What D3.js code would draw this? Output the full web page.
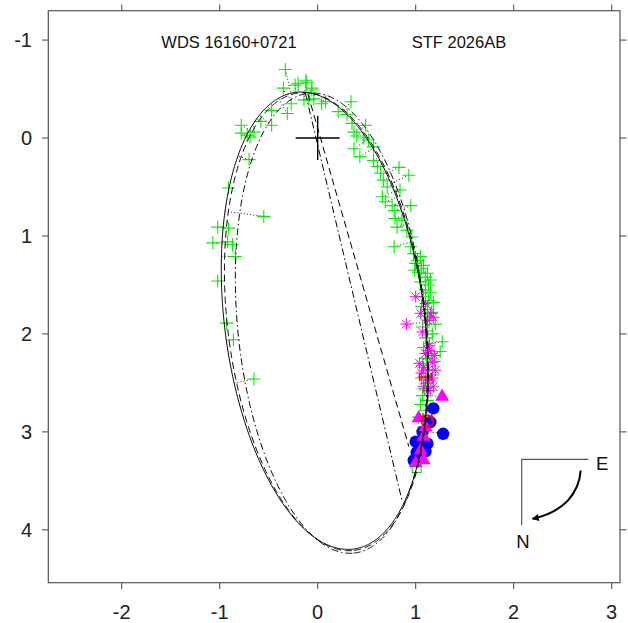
<!DOCTYPE html>
<html><head><meta charset="utf-8">
<script src="https://cdn.jsdelivr.net/npm/d3@7"></script>
<style>body{margin:0;background:#fff}</style>
</head><body>
<svg id="c" width="628" height="623"></svg>
<script>
// ---------- data ----------
const xTicks = [-2, -1, 0, 1, 2, 3];
const yTicks = [-1, 0, 1, 2, 3, 4];
const titleLeft = "WDS 16160+0721";
const titleRight = "STF 2026AB";

// apparent orbits (centre, semi-axes, tilt of major axis in degrees)
const orbitStyle = ["solid", "dashed", "dashdot"];
const orbitCx = [0.07, 0.09, 0.14];
const orbitCy = [1.865, 1.875, 1.89];
const orbitA = [2.35, 2.352, 2.359];
const orbitB = [1.02, 1.01, 0.958];
const orbitTilt = [7.2, 6.9, 5.54];

// lines through the primary
const chordStyle = ["dashed", "dashdot"];
const chordFrom = [[-0.10, -0.45], [-0.125, -0.456]];
const chordTo = [[0.93, 3.15], [0.86, 3.70]];

// observations
const greenPlus = [
  [-0.33,-0.70],[-0.35,-0.51],[-0.23,-0.54],[-0.12,-0.59],[-0.06,-0.49],[-0.04,-0.40],[-0.14,-0.39],
  [-0.27,-0.35],[-0.31,-0.25],[-0.47,-0.28],[-0.47,-0.13],[-0.58,-0.17],[-0.65,-0.06],[-0.72,-0.03],
  [-0.78,-0.13],[-0.78,-0.05],[-0.69,-0.01],[-0.70,0.22],[-0.91,0.51],[-0.55,0.80],[-1.02,0.91],[-0.91,0.92],
  [-1.07,1.07],[-0.92,1.06],[-0.87,1.09],[-0.84,1.21],[-1.02,1.46],[-0.93,1.89],[-0.86,2.06],[-0.65,2.46],
  [-0.20,-0.56],[-0.11,-0.57],[-0.06,-0.51],[-0.09,-0.39],[0.04,-0.35],[0.08,-0.37],[0.34,-0.37],[0.21,-0.27],
  [0.30,-0.24],[0.35,-0.15],[0.37,-0.06],[0.40,-0.02],[0.49,-0.13],[0.47,0.00],[0.52,0.02],
  [0.37,0.11],[0.43,0.19],[0.57,0.09],[0.57,0.23],[0.61,0.29],[0.64,0.36],[0.83,0.30],[0.93,0.38],
  [0.67,0.43],[0.71,0.50],[0.66,0.60],[0.69,0.65],[0.76,0.69],[0.84,0.53],[0.78,0.74],[0.95,0.69],
  [0.79,0.82],[0.86,0.84],[0.81,0.91],[0.91,0.94],[0.96,1.01],[0.78,1.11],[0.95,1.11],[0.98,1.18],
  [1.05,1.21],[1.00,1.28],[1.08,1.30],[1.03,1.37],[1.12,1.38],[1.05,1.47],[1.13,1.50],
  [1.02,1.25],[1.06,1.33],[1.10,1.42],[0.99,1.35],[1.15,1.45],
  [1.10,1.55],[1.15,1.58],[1.08,1.62],[1.13,1.66],[1.18,1.68],[1.06,1.72],[1.12,1.75],[1.16,1.78],
  [1.09,1.82],[1.14,1.86],[1.20,1.90],[1.07,1.93],[1.12,1.97],[1.17,2.00],[1.10,2.04],[1.27,2.08],
  [1.14,2.10],[1.25,2.18],[1.08,2.14],[1.16,2.20],[1.11,2.25],[1.19,2.28],[1.07,2.32],[1.13,2.36],
  [1.17,2.42],[1.06,2.45],[1.12,2.50],[1.09,2.56],[1.15,2.58],[1.07,2.63],[1.12,2.68],[1.05,2.72],
  [1.10,2.78],[1.03,2.85],[1.08,2.95],[1.04,3.05]
];
const magentaStar = [
  [1.00,1.62],[1.10,1.69],[1.15,1.79],[0.905,1.90],[1.05,1.79],[1.12,1.86],[1.18,1.83],[1.07,1.98],
  [1.13,2.17],[1.10,2.20],[1.17,2.29],[1.08,2.34],[1.12,2.37],[1.20,2.37],[1.10,2.47],[1.13,2.47],
  [1.18,2.54],[1.08,2.54],[1.17,2.45],[1.14,2.12],[1.06,2.40],[1.19,2.22],[1.13,2.58],[1.04,2.30]
];
const magentaTri = [[1.27,2.64],[1.03,2.86],[1.05,3.19],[1.00,3.32],[1.08,3.29],[1.08,3.05],[1.10,2.95]];
const blueDot = [[1.18,2.76],[1.15,2.90],[1.28,3.02],[1.00,3.10],[1.07,3.00],[1.12,3.12],[1.01,3.21],[0.98,3.29],[1.10,3.20]];
const redBar = [[1.10,2.44,0.06],[1.12,2.85,0.045]];
const redRing = [[1.12,2.89]];
const greenSquare = [[1.01,3.37]];

// ---------- drawing ----------
const svg = d3.select("#c");
const x = d3.scaleLinear().domain([-2.749, 3.085]).range([48.3, 620]);
const y = d3.scaleLinear().domain([-1.30, 4.54]).range([10.7, 582.7]);
const font = "'Liberation Sans', Arial, Helvetica, sans-serif";
const dashOf = {solid: null, dashed: "7,4", dashdot: "7,3,1.5,3"};

function ellipsePts(i, n) {
  const phi = orbitTilt[i] * Math.PI / 180, pts = [];
  for (let k = 0; k <= n; k++) {
    const t = 2 * Math.PI * k / n;
    pts.push([
      orbitCx[i] + orbitA[i] * Math.cos(t) * Math.sin(phi) + orbitB[i] * Math.sin(t) * Math.cos(phi),
      orbitCy[i] + orbitA[i] * Math.cos(t) * Math.cos(phi) - orbitB[i] * Math.sin(t) * Math.sin(phi)
    ]);
  }
  return pts;
}
const solidPts = ellipsePts(0, 1440);
function nearest(p) {
  let best = null, bd = Infinity;
  for (const q of solidPts) {
    const d = (q[0]-p[0])**2 + (q[1]-p[1])**2;
    if (d < bd) { bd = d; best = q; }
  }
  return best;
}

const plot = svg.append("g");
plot.append("clipPath").attr("id","clip").append("rect")
  .attr("x", 48.3).attr("y", 10.7).attr("width", 620-48.3).attr("height", 582.7-10.7);
const inner = plot.append("g").attr("clip-path","url(#clip)");

// O-C residual lines
const allObs = [].concat(greenPlus, magentaStar, magentaTri, blueDot);
inner.append("g").selectAll("line").data(allObs).join("line")
  .attr("x1", d => x(d[0])).attr("y1", d => y(d[1]))
  .attr("x2", d => x(nearest(d)[0])).attr("y2", d => y(nearest(d)[1]))
  .attr("stroke", "#000").attr("stroke-width", 0.9).attr("stroke-dasharray", "1,2.2");

// green plus
const gp = inner.append("g").attr("stroke", "#00ee00").attr("stroke-width", 1.1);
gp.selectAll("path").data(greenPlus).join("path")
  .attr("d", d => `M${x(d[0])-6.5},${y(d[1])}h13M${x(d[0])},${y(d[1])-6.5}v13`);

// magenta asterisks
const ms = inner.append("g").attr("stroke", "#ff00ff").attr("stroke-width", 1);
ms.selectAll("path").data(magentaStar).join("path")
  .attr("d", d => {
    const cx = x(d[0]), cy = y(d[1]), r = 6, q = 4.3;
    return `M${cx-r},${cy}h${2*r}M${cx},${cy-r}v${2*r}M${cx-q},${cy-q}l${2*q},${2*q}M${cx-q},${cy+q}l${2*q},${-2*q}`;
  });

// blue dots
inner.append("g").selectAll("circle").data(blueDot).join("circle")
  .attr("cx", d => x(d[0])).attr("cy", d => y(d[1])).attr("r", 6.2).attr("fill", "#0000ff");

// magenta triangles
inner.append("g").selectAll("path").data(magentaTri).join("path")
  .attr("transform", d => `translate(${x(d[0])},${y(d[1])})`)
  .attr("d", d3.symbol().type(d3.symbolTriangle).size(85)).attr("fill", "#ff00ff");

// red error bars and ring
const rb = inner.append("g").attr("stroke", "#ff0000").attr("stroke-width", 1.5).attr("fill", "none");
rb.selectAll("path").data(redBar).join("path")
  .attr("d", d => `M${x(d[0]-d[2])},${y(d[1])}H${x(d[0]+d[2])}M${x(d[0]-d[2])},${y(d[1])-4}v8M${x(d[0]+d[2])},${y(d[1])-4}v8`);
rb.selectAll("circle").data(redRing).join("circle")
  .attr("cx", d => x(d[0])).attr("cy", d => y(d[1])).attr("r", 6);
inner.append("g").selectAll("rect").data(greenSquare).join("rect")
  .attr("x", d => x(d[0]) - 4.5).attr("y", d => y(d[1]) - 4.5).attr("width", 9).attr("height", 9)
  .attr("fill", "none").attr("stroke", "#00cc00").attr("stroke-width", 1);

// orbits
const line = d3.line().x(d => x(d[0])).y(d => y(d[1]));
orbitStyle.forEach((s, i) => {
  inner.append("path").attr("d", line(ellipsePts(i, 720)))
    .attr("fill", "none").attr("stroke", "#000").attr("stroke-width", 1)
    .attr("stroke-dasharray", dashOf[s]);
});
chordStyle.forEach((s, i) => {
  inner.append("path").attr("d", line([chordFrom[i], chordTo[i]]))
    .attr("fill", "none").attr("stroke", "#000").attr("stroke-width", 1)
    .attr("stroke-dasharray", dashOf[s]);
});

// primary
inner.append("path")
  .attr("d", `M${x(0)-22},${y(0)}h44M${x(0)},${y(0)-22}v44`)
  .attr("stroke", "#000").attr("stroke-width", 1.4);

// frame and ticks
const frameColor = "#555";
plot.append("rect").attr("x", 48.3).attr("y", 10.7).attr("width", 620-48.3).attr("height", 582.7-10.7)
  .attr("fill", "none").attr("stroke", frameColor).attr("stroke-width", 1.2);
const tk = plot.append("g").attr("stroke", frameColor).attr("stroke-width", 1.1);
xTicks.forEach(t => {
  tk.append("line").attr("x1", x(t)).attr("x2", x(t)).attr("y1", 582.7).attr("y2", 589);
  tk.append("line").attr("x1", x(t)).attr("x2", x(t)).attr("y1", 10.7).attr("y2", 4.5);
});
yTicks.forEach(t => {
  tk.append("line").attr("y1", y(t)).attr("y2", y(t)).attr("x1", 48.3).attr("x2", 42);
  tk.append("line").attr("y1", y(t)).attr("y2", y(t)).attr("x1", 620).attr("x2", 626.5);
});
plot.append("g").selectAll("text").data(xTicks).join("text")
  .attr("x", d => x(d)).attr("y", 619).attr("text-anchor", "middle")
  .attr("font-family", font).attr("font-size", 20).attr("fill", "#222").text(d => d);
plot.append("g").selectAll("text").data(yTicks).join("text")
  .attr("x", 32).attr("y", d => y(d)).attr("dy", "0.36em").attr("text-anchor", "end")
  .attr("font-family", font).attr("font-size", 20).attr("fill", "#222").text(d => d);

// titles
svg.append("text").attr("x", 229).attr("y", 48.3).attr("text-anchor", "middle")
  .attr("font-family", font).attr("font-size", 16.5).attr("fill", "#111").text(titleLeft);
svg.append("text").attr("x", 459).attr("y", 48.3).attr("text-anchor", "middle")
  .attr("font-family", font).attr("font-size", 16.5).attr("fill", "#111").text(titleRight);

// compass
const cp = svg.append("g");
cp.append("path").attr("d", "M588.3,459.3H521.7V525").attr("fill", "none")
  .attr("stroke", frameColor).attr("stroke-width", 1.2);
cp.append("text").attr("x", 596).attr("y", 469.5).attr("font-family", font).attr("font-size", 18.5).attr("fill", "#111").text("E");
cp.append("text").attr("x", 523).attr("y", 547.5).attr("text-anchor", "middle").attr("font-family", font).attr("font-size", 18.5).attr("fill", "#111").text("N");
svg.append("defs").append("marker").attr("id", "ah").attr("viewBox", "0 0 10 10")
  .attr("refX", 9).attr("refY", 5).attr("markerWidth", 9).attr("markerHeight", 7)
  .attr("markerUnits", "userSpaceOnUse").attr("orient", "auto")
  .append("path").attr("d", "M0,0L10,5L0,10z").attr("fill", "#000");
cp.append("path").attr("d", "M580.7,470.7C579,493 564,512 532.5,518.8")
  .attr("fill", "none").attr("stroke", "#000").attr("stroke-width", 2).attr("marker-end", "url(#ah)");
</script>
</body></html>
